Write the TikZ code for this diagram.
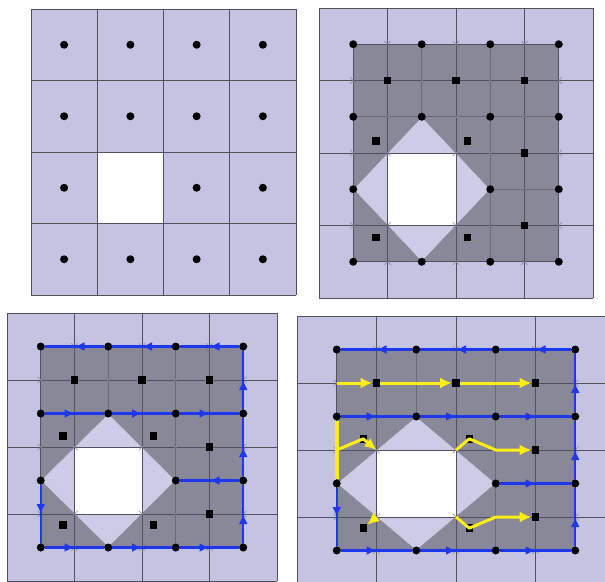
\documentclass[tikz,border=0pt]{standalone}
\definecolor{cellblue}{RGB}{196,196,226}
\definecolor{dualgray}{RGB}{136,136,152}
\definecolor{diamondfill}{RGB}{204,204,230}
\definecolor{gridline}{RGB}{80,80,96}
\definecolor{flowblue}{RGB}{30,55,235}
\definecolor{flowyellow}{RGB}{250,238,20}
\usepackage{tikz}
\usetikzlibrary{shapes.misc, arrows.meta, decorations.markings}

\tikzset{
  cellfill/.style={fill=cellblue},
  gridlines/.style={draw=gridline, line width=0.7pt},
  dualline/.style={draw=gridline!85, line width=0.6pt},
  dotnode/.style={circle, fill=black, inner sep=0pt, minimum size=8pt},
  sqnode/.style={rectangle, fill=black, inner sep=0pt, minimum size=7.5pt},
  xnode/.style={cross out, draw=gridline!70, inner sep=0pt, minimum size=6pt, line width=0.5pt},
  blueflow/.style={flowblue, line width=2.4pt, postaction={decorate},
    decoration={markings, mark=at position 0.5 with {\arrow{Latex[length=10pt,width=9pt]}}}},
  yellowflow/.style={flowyellow, line width=3pt, line join=round, -{Latex[length=12pt,width=11pt]}},
  yellowline/.style={flowyellow, line width=4pt},
}

\begin{document}
\begin{tikzpicture}
  \useasboundingbox (0,0) rectangle (605pt,-581pt);
  \fill[white] (0,0) rectangle (605pt,-581pt);
  \clip (0,0) rectangle (605pt,-581pt);

  % primal grid with one removed cell
  \begin{scope}[shift={(31pt,-9pt)}, x=66.25pt, y=-71.5pt]
    \fill[cellfill] (0,0) rectangle (4,4);
    \fill[white] (1,2) rectangle (2,3);
    \foreach \k in {0,...,4} {
      \draw[gridlines] (\k,0) -- (\k,4);
      \draw[gridlines] (0,\k) -- (4,\k);
    }
    \foreach \i/\j in {0/0,1/0,2/0,3/0,0/1,1/1,2/1,3/1,0/2,2/2,3/2,0/3,1/3,2/3,3/3}
      \node[dotnode] (c1-\i-\j) at (\i+0.5,\j+0.5) {};
  \end{scope}

  % dual mesh, cut around the hole
  \foreach \p/\ox/\oy/\cw/\ch in {2/319/8/68.5/72.5, 3/7/313/67.5/67, 4/297/316/79.5/67} {
    \begin{scope}[shift={(\ox pt,-\oy pt)}, x=\cw pt, y=-\ch pt]
      \fill[cellfill] (0,0) rectangle (4,4);
      \filldraw[fill=dualgray, draw=gridline, line width=0.6pt] (0.5,0.5) rectangle (3.5,3.5);
      \filldraw[fill=diamondfill, draw=gridline!70, line width=0.5pt]
        (1.5,1.5) -- (0.5,2.5) -- (1.5,3.5) -- (2.5,2.5) -- cycle;
      \fill[white] (1,2) rectangle (2,3);
      \foreach \k in {0,...,4} {
        \draw[gridlines] (\k,0) -- (\k,4);
        \draw[gridlines] (0,\k) -- (4,\k);
      }
      \draw[dualline] (0.5,1.5) -- (3.5,1.5);
      \draw[dualline] (2.5,2.5) -- (3.5,2.5);
      \draw[dualline] (1.5,0.5) -- (1.5,1.5);
      \draw[dualline] (2.5,0.5) -- (2.5,3.5);
      \foreach \a/\b [count=\n] in {1/0.5,2/0.5,3/0.5,1/1.5,2/1.5,3/1.5,3/2.5,1/3.5,2/3.5,3/3.5,
          0.5/1,1.5/1,2.5/1,3.5/1,0.5/2,2.5/2,3.5/2,0.5/3,2.5/3,3.5/3,1/2,2/2,1/3,2/3}
        \node[xnode] (x\p-\n) at (\a,\b) {};
      \coordinate (e\p-l1) at (0.5,1);
      \coordinate (e\p-l2) at (0.5,2);
      \coordinate (e\p-r2) at (2.5,2);
      \coordinate (e\p-r3) at (2.5,3);
      \coordinate (k\p-tl) at (1,2);
      \coordinate (k\p-tr) at (2,2);
      \coordinate (k\p-bl) at (1,3);
      \coordinate (k\p-br) at (2,3);
      \foreach \i/\j in {0/0,1/0,2/0,3/0,0/1,1/1,2/1,3/1,0/2,2/2,3/2,0/3,1/3,2/3,3/3}
        \node[dotnode] (d\p-\i-\j) at (\i+0.5,\j+0.5) {};
      \foreach \n/\a/\b in {11/1/1, 21/2/1, 31/3/1, 32/3/2, 33/3/3,
          tl/0.8333/1.8333, tr/2.1667/1.8333, bl/0.8333/3.1667, br/2.1667/3.1667}
        \node[sqnode] (q\p-\n) at (\a,\b) {};
    \end{scope}
  }

  % flow along the dual edges
  \foreach \p in {3,4} {
    \draw[blueflow] (d\p-3-0) -- (d\p-2-0);
    \draw[blueflow] (d\p-2-0) -- (d\p-1-0);
    \draw[blueflow] (d\p-1-0) -- (d\p-0-0);
    \draw[blueflow] (d\p-3-3) -- (d\p-3-2);
    \draw[blueflow] (d\p-3-2) -- (d\p-3-1);
    \draw[blueflow] (d\p-3-1) -- (d\p-3-0);
    \draw[blueflow] (d\p-0-1) -- (d\p-1-1);
    \draw[blueflow] (d\p-1-1) -- (d\p-2-1);
    \draw[blueflow] (d\p-2-1) -- (d\p-3-1);
    \draw[blueflow] (d\p-0-2) -- (d\p-0-3);
    \draw[blueflow] (d\p-0-3) -- (d\p-1-3);
    \draw[blueflow] (d\p-1-3) -- (d\p-2-3);
    \draw[blueflow] (d\p-2-3) -- (d\p-3-3);
  }
  \draw[blueflow] (d3-3-2) -- (d3-2-2);
  \draw[blueflow] (d4-2-2) -- (d4-3-2);

  % tree of the cut cells
  \draw[yellowline] (d4-0-1) -- (d4-0-2);
  \draw[yellowflow] (e4-l1) -- (q4-11);
  \draw[yellowflow] (q4-11) -- (q4-21);
  \draw[yellowflow] (q4-21) -- (q4-31);
  \draw[yellowflow] (e4-l2) -- (q4-tl.center) -- (k4-tl);
  \draw[yellowflow] (k4-tr) -- (q4-tr.center) -- (e4-r2) -- (q4-32);
  \draw[yellowflow] (k4-bl) -- (q4-bl);
  \draw[yellowflow] (k4-br) -- (q4-br.center) -- (e4-r3) -- (q4-33);
\end{tikzpicture}
\end{document}
